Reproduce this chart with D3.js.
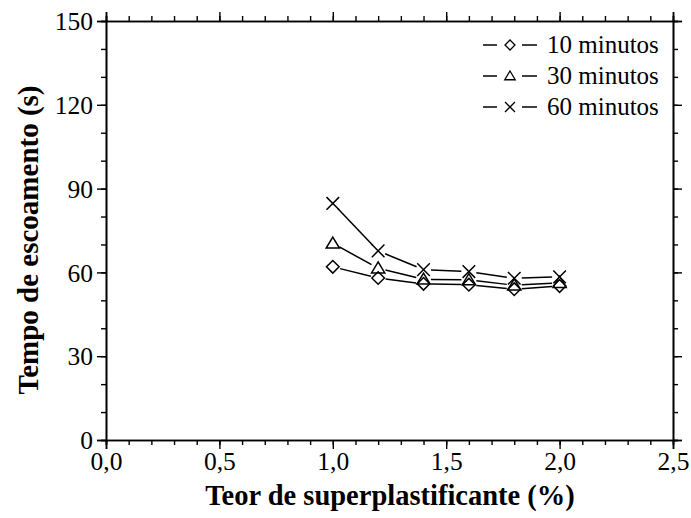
<!DOCTYPE html>
<html><head><meta charset="utf-8">
<script src="https://cdn.jsdelivr.net/npm/d3@7"></script>
<style>body{margin:0;background:#fff}svg{display:block}</style>
</head><body>
<svg id="c" width="691" height="518"></svg>
<script>
const teor = [1.0, 1.2, 1.4, 1.6, 1.8, 2.0];
const min10 = [62.0, 58.0, 55.9, 55.6, 54.0, 55.1];
const min30 = [70.4, 61.5, 57.5, 57.3, 55.4, 56.3];
const min60 = [84.7, 67.7, 61.0, 60.3, 57.9, 58.4];
const seriesNames = ["10 minutos", "30 minutos", "60 minutos"];
const xTicks = [0, 0.5, 1.0, 1.5, 2.0, 2.5];
const yTicks = [0, 30, 60, 90, 120, 150];
const xTitle = "Teor de superplastificante (%)";
const yTitle = "Tempo de escoamento (s)";

const FONT = "'Liberation Serif','Times New Roman',serif";
const svg = d3.select("#c");
const L = 106, R = 673, T = 21, B = 440;
const x = d3.scaleLinear().domain([0, 2.5]).range([L, R]);
const y = d3.scaleLinear().domain([0, 150]).range([B, T]);

const fmt = d => d3.format(".1f")(d).replace(".", ",");
const xMinor = d3.range(0, 2.5001, 0.1).map(v => +v.toFixed(2));
const yMinor = d3.range(0, 150.001, 10);

function styleAxis(g) {
  g.selectAll("path.domain").attr("stroke", "#000").attr("stroke-width", 1.6);
  g.selectAll(".tick line").attr("stroke", "#000").attr("stroke-width", 1.4);
  g.selectAll("text").attr("font-family", FONT).attr("font-size", 25.5).attr("fill", "#000");
}
// minor ticks
svg.append("g").attr("transform", `translate(0,${B})`)
  .call(d3.axisBottom(x).tickValues(xMinor).tickSize(5).tickFormat("")).call(styleAxis);
svg.append("g").attr("transform", `translate(0,${T})`)
  .call(d3.axisTop(x).tickValues(xMinor).tickSize(5).tickFormat("")).call(styleAxis);
svg.append("g").attr("transform", `translate(${L},0)`)
  .call(d3.axisLeft(y).tickValues(yMinor).tickSize(5).tickFormat("")).call(styleAxis);
svg.append("g").attr("transform", `translate(${R},0)`)
  .call(d3.axisRight(y).tickValues(yMinor).tickSize(5).tickFormat("")).call(styleAxis);
// major ticks
svg.append("g").attr("transform", `translate(0,${B})`)
  .call(d3.axisBottom(x).tickValues(xTicks).tickSize(9).tickPadding(3).tickFormat(fmt)).call(styleAxis);
svg.append("g").attr("transform", `translate(0,${T})`)
  .call(d3.axisTop(x).tickValues(xTicks).tickSize(9).tickFormat("")).call(styleAxis);
svg.append("g").attr("transform", `translate(${L},0)`)
  .call(d3.axisLeft(y).tickValues(yTicks).tickSize(9).tickPadding(4).tickFormat(d3.format("d"))).call(styleAxis)
  .selectAll("text").attr("dy", "0.34em");
svg.append("g").attr("transform", `translate(${R},0)`)
  .call(d3.axisRight(y).tickValues(yTicks).tickSize(9).tickFormat("")).call(styleAxis);

// titles
svg.append("text").attr("x", 390).attr("y", 505).attr("text-anchor", "middle")
  .attr("font-family", FONT).attr("font-weight", "bold").attr("font-size", 28.5).text(xTitle);
svg.append("text").attr("transform", `translate(38,240) rotate(-90)`).attr("text-anchor", "middle")
  .attr("font-family", FONT).attr("font-weight", "bold").attr("font-size", 29).text(yTitle);

// markers
function diamond(r) { return `M0,${-r}L${r},0L0,${r}L${-r},0Z`; }
function triangle(r) { return `M0,${-r}L${r * 1.05},${r * 0.75}L${-r * 1.05},${r * 0.75}Z`; }
function cross(r) { return `M${-r},${-r}L${r},${r}M${-r},${r}L${r},${-r}`; }
const shapes = [diamond, triangle, cross];
const series = [min10, min30, min60];

const plot = svg.append("g");
series.forEach((vals, si) => {
  const pts = teor.map((t, i) => [x(t), y(vals[i])]);
  const gap = 7.5;
  for (let i = 0; i < pts.length - 1; i++) {
    const [x1, y1] = pts[i], [x2, y2] = pts[i + 1];
    const dx = x2 - x1, dy = y2 - y1, len = Math.hypot(dx, dy);
    if (len <= 2 * gap) continue;
    const ux = dx / len, uy = dy / len;
    plot.append("line")
      .attr("x1", x1 + ux * gap).attr("y1", y1 + uy * gap)
      .attr("x2", x2 - ux * gap).attr("y2", y2 - uy * gap)
      .attr("stroke", "#000").attr("stroke-width", 1.5);
  }
  plot.selectAll(null).data(pts).enter().append("path")
    .attr("transform", d => `translate(${d[0]},${d[1]})`)
    .attr("d", shapes[si](6.3))
    .attr("fill", "none").attr("stroke", "#000").attr("stroke-width", 1.5);
});

// legend
const lg = svg.append("g");
seriesNames.forEach((name, i) => {
  const cy = 45 + i * 31;
  lg.append("line").attr("x1", 483).attr("x2", 497).attr("y1", cy).attr("y2", cy).attr("stroke", "#000").attr("stroke-width", 1.5);
  lg.append("line").attr("x1", 522).attr("x2", 537).attr("y1", cy).attr("y2", cy).attr("stroke", "#000").attr("stroke-width", 1.5);
  lg.append("path").attr("transform", `translate(510,${cy})`).attr("d", shapes[i](5))
    .attr("fill", "none").attr("stroke", "#000").attr("stroke-width", 1.3);
  lg.append("text").attr("x", 547).attr("y", cy + 8).attr("font-family", FONT).attr("font-size", 25).text(name);
});
</script>
</body></html>
